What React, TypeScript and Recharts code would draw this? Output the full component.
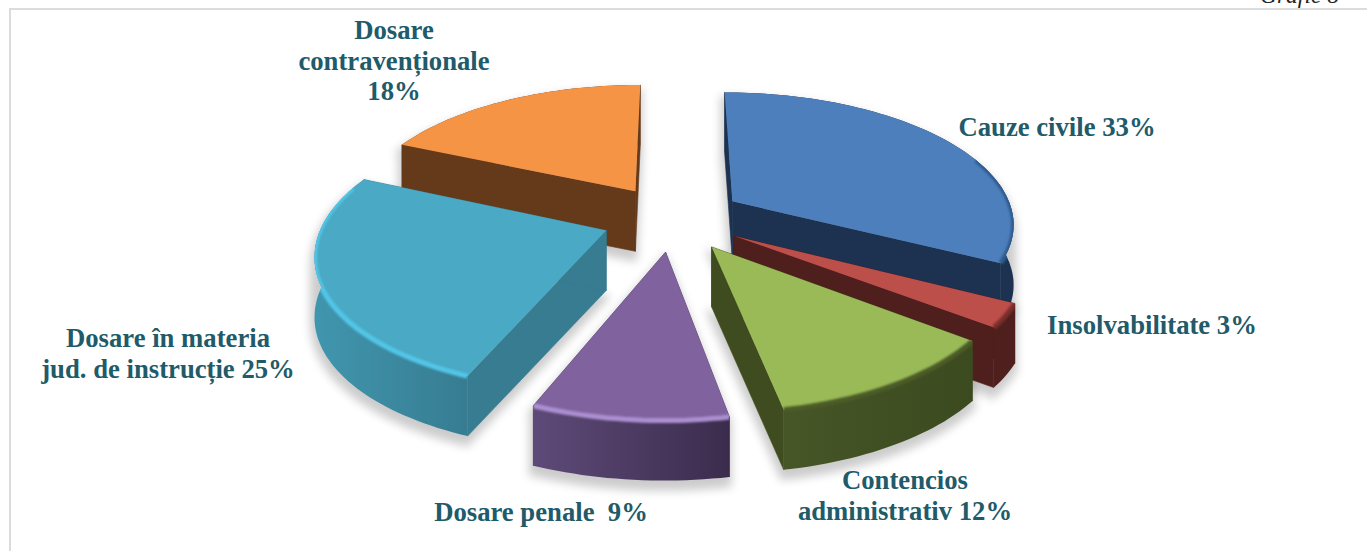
import React from "react";
import { PieChart, Pie } from "recharts";

const categories = [
  "Dosare contravenționale",
  "Cauze civile",
  "Insolvabilitate",
  "Contencios administrativ",
  "Dosare penale",
  "Dosare în materia jud. de instrucție",
];
const values = [18.4, 32.6, 2.8, 11.6, 9.2, 25.4];
const labelLines = [
  ["Dosare", "contravenționale", "18%"],
  ["Cauze civile 33%"],
  ["Insolvabilitate 3%"],
  ["Contencios", "administrativ 12%"],
  ["Dosare penale  9%"],
  ["Dosare în materia", "jud. de instrucție 25%"],
];
const topColors = ["#f59445", "#4c7fbb", "#bd4f4b", "#9aba58", "#80629f", "#4aa9c4"];
const wallLeft = ["#653a1b", "#1c3250", "#4e1f1d", "#465627", "#5e4a78", "#4096ae"];
const wallRight = ["#653a1b", "#1c3250", "#4e1f1d", "#3c4a1f", "#3b2c4d", "#377c91"];
const radialWall = ["#653a1b", "#1c3250", "#4e1f1d", "#3f4c20", "#4a3a60", "#377c91"];
const rimColors = ["#f9a35e", "#2f5a8c", "#7a2f2c", "#4c5c28", "#ab8fd0", "#52c6e8"];
const labelCenters = [
  [394, 30],
  [1057, 127],
  [1152, 325],
  [905, 480],
  [541, 512],
  [168, 338],
];

const rows = categories.map((name, i) => ({ name, value: values[i] }));

const CX = 673;
const CY = 218;
const RADIUS = 282;
const EXPLODE = 71;
const TILT = 0.463;
const PERSPECTIVE = 0.00055;
const DEPTH = 60;
const RAD = Math.PI / 180;

type Pt = [number, number];

function project(px: number, py: number): Pt {
  const s = 1 / (1 + PERSPECTIVE * py);
  return [CX + px * s, CY - py * TILT * s];
}
function toPath(points: Pt[], close = true) {
  return (
    points.map((p, i) => `${i ? "L" : "M"}${p[0].toFixed(1)} ${p[1].toFixed(1)}`).join(" ") +
    (close ? " Z" : "")
  );
}
function down(points: Pt[]): Pt[] {
  return points.map((p) => [p[0], p[1] + DEPTH] as Pt);
}

function geometry(props: any) {
  const { startAngle, endAngle, outerRadius } = props;
  const a0 = 90 - startAngle;
  const a1 = 90 - endAngle;
  const mid = ((a0 + a1) / 2) * RAD;
  const ox = EXPLODE * Math.sin(mid);
  const oy = EXPLODE * Math.cos(mid);
  const apex = project(ox, oy);
  const arc: Pt[] = [];
  const rim: Pt[] = [];
  const n = Math.max(3, Math.ceil((a1 - a0) / 1.5));
  for (let i = 0; i <= n; i++) {
    const t = (a0 + ((a1 - a0) * i) / n) * RAD;
    const pt = project(ox + outerRadius * Math.sin(t), oy + outerRadius * Math.cos(t));
    arc.push(pt);
    if (Math.cos(t) < 0.35) rim.push(pt);
  }
  return { apex, arc, rim };
}
function indexOf(props: any) {
  const name = props.payload?.name ?? props.name;
  return categories.indexOf(name);
}

function SliceShadow(props: any) {
  const { apex, arc } = geometry(props);
  const i = indexOf(props);
  const walls = [apex, ...arc];
  const low = down(walls);
  const id = `shadow-${i}`;
  return (
    <g>
      <defs>
        <filter id={id} filterUnits="userSpaceOnUse" x={0} y={0} width={1367} height={551}>
          <feGaussianBlur stdDeviation="5" />
        </filter>
      </defs>
      <g filter={`url(#${id})`} transform="translate(-1 7)" opacity={0.2} fill="#000" stroke="#000" strokeWidth={6}>
        <path d={toPath(walls)} />
        <path d={toPath(low)} />
        {arc.slice(1).map((p, k) => (
          <path key={k} d={toPath([arc[k], p, [p[0], p[1] + DEPTH], [arc[k][0], arc[k][1] + DEPTH]])} />
        ))}
      </g>
    </g>
  );
}

function Slice3D(props: any) {
  const { apex, arc, rim } = geometry(props);
  const i = indexOf(props);
  const xs = arc.map((p) => p[0]);
  const gradId = `wall-${i}`;
  const blurId = `rim-${i}`;
  const first = arc[0];
  const last = arc[arc.length - 1];
  const quad = (a: Pt, b: Pt): Pt[] => [a, b, [b[0], b[1] + DEPTH], [a[0], a[1] + DEPTH]];
  return (
    <g>
      <defs>
        <linearGradient id={gradId} gradientUnits="userSpaceOnUse" x1={Math.min(...xs)} x2={Math.max(...xs)} y1={0} y2={0}>
          <stop offset="0%" stopColor={wallLeft[i]} />
          <stop offset="100%" stopColor={wallRight[i]} />
        </linearGradient>
        <filter id={blurId} filterUnits="userSpaceOnUse" x={0} y={0} width={1367} height={551}>
          <feGaussianBlur stdDeviation="1.3" />
        </filter>
        <clipPath id={`${blurId}-clip`}>
          <path d={toPath([apex, ...arc])} />
          <path d={toPath([...arc, ...down(arc).reverse()])} />
        </clipPath>
      </defs>
      <path d={toPath(quad(apex, first))} fill={radialWall[i]} stroke={radialWall[i]} strokeWidth={0.6} />
      <path d={toPath(quad(apex, last))} fill={radialWall[i]} stroke={radialWall[i]} strokeWidth={0.6} />
      <path d={toPath([...arc, ...down(arc).reverse()])} fill={`url(#${gradId})`} />
      <path d={toPath([apex, ...arc])} fill={topColors[i]} />
      {rim.length > 1 && (
        <g clipPath={`url(#${blurId}-clip)`}>
          <path
            d={toPath(rim, false)}
            fill="none"
            stroke={rimColors[i]}
            strokeWidth={5}
            strokeLinecap="butt"
            filter={`url(#${blurId})`}
          />
        </g>
      )}
    </g>
  );
}

function SliceLabel(props: any) {
  const i = indexOf(props);
  const [x, y] = labelCenters[i];
  return (
    <text
      x={x}
      y={y + 9}
      textAnchor="middle"
      fontFamily="'Liberation Serif', serif"
      fontWeight="bold"
      fontSize={26.7}
      fill="#215a69"
      style={{ whiteSpace: "pre" }}
    >
      {labelLines[i].map((line, k) => (
        <tspan key={k} x={x} dy={k === 0 ? 0 : 30.5}>
          {line}
        </tspan>
      ))}
    </text>
  );
}

const renderShadow = (p: any) => <SliceShadow {...p} />;
const renderSlice = (p: any) => <Slice3D {...p} />;
const renderLabel = (p: any) => <SliceLabel {...p} />;

export default function App() {
  const pieProps = {
    data: rows,
    dataKey: "value",
    nameKey: "name",
    cx: CX,
    cy: CY,
    innerRadius: 0,
    outerRadius: RADIUS,
    startAngle: 156.24,
    endAngle: -203.76,
    isAnimationActive: false,
    stroke: "none",
  };
  return (
    <div
      style={{
        position: "absolute",
        left: 0,
        top: 0,
        width: 1367,
        height: 551,
        overflow: "hidden",
        background: "#fff",
      }}
    >
      <div
        style={{
          position: "absolute",
          left: 9,
          top: 8,
          right: -4,
          bottom: -4,
          borderTop: "2px solid #dcdcdc",
          borderLeft: "2px solid #dcdcdc",
        }}
      />
      <div
        style={{
          position: "absolute",
          left: 1260,
          top: -18,
          fontFamily: "'Liberation Serif', serif",
          fontStyle: "italic",
          fontSize: 23.5,
          lineHeight: "26px",
          color: "#222",
          whiteSpace: "nowrap",
        }}
      >
        Grafic 8
      </div>
      <div style={{ position: "absolute", left: 0, top: 0 }}>
        <PieChart width={1367} height={551} margin={{ top: 0, right: 0, bottom: 0, left: 0 }}>
          <Pie
            {...pieProps}
            shape={renderShadow}
            activeShape={renderShadow}
            inactiveShape={renderShadow}
            label={false}
            labelLine={false}
            legendType="none"
          />
          <Pie
            {...pieProps}
            shape={renderSlice}
            activeShape={renderSlice}
            inactiveShape={renderSlice}
            label={renderLabel}
            labelLine={false}
          />
        </PieChart>
      </div>
    </div>
  );
}
